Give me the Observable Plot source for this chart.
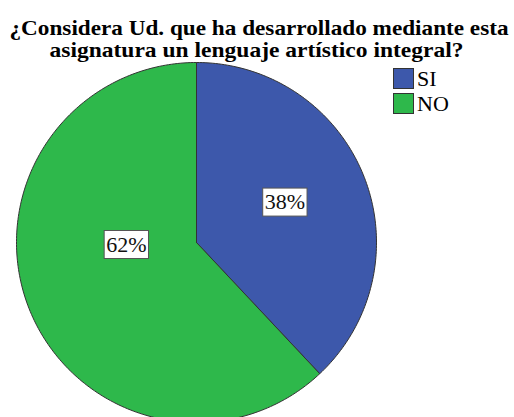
<!DOCTYPE html>
<html>
<head>
<meta charset="utf-8">
<script src="https://cdn.jsdelivr.net/npm/d3@7"></script>
<script src="https://cdn.jsdelivr.net/npm/@observablehq/plot@0.6"></script>
<style>
  html, body { margin: 0; padding: 0; background: #fff; overflow: hidden; }
  #wrap { position: relative; width: 514px; height: 417px; }
  #legend { position: absolute; left: 393px; top: 66px; font-size: 22px; color: #000; }
  .item { display: flex; align-items: center; height: 25px; }
  .sw { width: 19px; height: 19px; border: 1px solid #333; box-sizing: content-box; margin-right: 3px; }
</style>
</head>
<body>
<div id="wrap"></div>
<script>
const title = ["¿Considera Ud. que ha desarrollado mediante esta", "asignatura un lenguaje artístico integral?"];
const categories = ["SI", "NO"];
const values = [38, 62];
const labels = ["38%", "62%"];
const colors = ["#3d58ab", "#2eb84b"];

const SERIF = "'Liberation Serif', 'Times New Roman', serif";
const W = 514, H = 417;
const total = d3.sum(values);
const slices = [];
let start = 0;
categories.forEach((c, i) => {
  const a0 = start / total * 2 * Math.PI;
  const a1 = (start + values[i]) / total * 2 * Math.PI;
  const n = Math.max(4, Math.ceil((a1 - a0) / (Math.PI / 180)));
  slices.push({cat: c, x: 0, y: 0});
  for (let k = 0; k <= n; k++) {
    const a = a0 + (a1 - a0) * k / n;
    slices.push({cat: c, x: Math.sin(a), y: Math.cos(a)});
  }
  slices.push({cat: c, x: 0, y: 0});
  start += values[i];
});
const labelLayout = [{r: 0.54, shift: -3}, {r: 0.39, shift: 20}];
const labelData = [];
start = 0;
categories.forEach((c, i) => {
  const mid = (start + values[i] / 2) / total * 360 + labelLayout[i].shift;
  const a = mid * Math.PI / 180;
  labelData.push({cat: c, text: labels[i], x: labelLayout[i].r * Math.sin(a), y: labelLayout[i].r * Math.cos(a)});
  start += values[i];
});

const chart = Plot.plot({
  width: W,
  height: H,
  x: {domain: [-1, 1], range: [16, 376], axis: null},
  y: {domain: [-1, 1], range: [422, 62], axis: null},
  color: {domain: categories, range: colors},
  style: {background: "#fff", overflow: "hidden", fontFamily: SERIF},
  marks: [
    Plot.line(slices, {x: "x", y: "y", z: "cat", fill: "cat", stroke: "#333", strokeWidth: 1, curve: "linear"}),
    Plot.text(labelData, {x: "x", y: "y", text: "text", fontSize: 22, fill: "#111", className: "pielabel"}),
    Plot.text(title, {frameAnchor: "top", text: d => d, fontSize: 21, fontWeight: "bold", fill: "#000", className: "ttl"})
  ]
});
document.getElementById("wrap").appendChild(chart);
chart.querySelectorAll("text").forEach(t => t.style.fontFamily = SERIF);

const titleWidths = [499, 414];
const titleCenters = [258.5, 256];
chart.querySelectorAll(".ttl text").forEach((t, i) => {
  t.setAttribute("x", titleCenters[i]);
  t.setAttribute("y", 34 + i * 22);
  t.setAttribute("dy", "0");
  t.setAttribute("text-anchor", "middle");
  t.setAttribute("textLength", titleWidths[i]);
  t.setAttribute("lengthAdjust", "spacingAndGlyphs");
  t.removeAttribute("transform");
});

chart.querySelectorAll(".pielabel text").forEach(t => {
  const b = t.getBBox();
  const r = document.createElementNS("http://www.w3.org/2000/svg", "rect");
  r.setAttribute("x", b.x - 2);
  r.setAttribute("y", b.y - 1);
  r.setAttribute("width", b.width + 4);
  r.setAttribute("height", b.height + 3);
  r.setAttribute("fill", "#fff");
  r.setAttribute("stroke", "#555");
  r.setAttribute("stroke-width", 1);
  const tr = t.getAttribute("transform");
  if (tr) r.setAttribute("transform", tr);
  t.parentNode.insertBefore(r, t);
});

const leg = document.createElement("div");
leg.id = "legend";
leg.style.fontFamily = SERIF;
categories.forEach((c, i) => {
  const it = document.createElement("div");
  it.className = "item";
  const sw = document.createElement("div");
  sw.className = "sw";
  sw.style.background = colors[i];
  const lb = document.createElement("span");
  lb.textContent = c;
  it.appendChild(sw); it.appendChild(lb);
  leg.appendChild(it);
});
document.getElementById("wrap").appendChild(leg);
</script>
</body>
</html>
